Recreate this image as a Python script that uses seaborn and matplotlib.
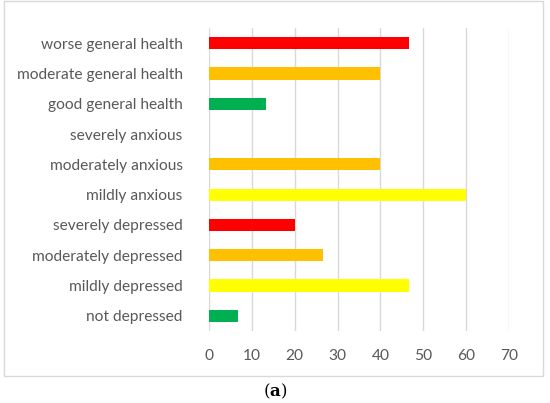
import matplotlib
matplotlib.use("Agg")
import matplotlib.pyplot as plt
import seaborn as sns
import pandas as pd
from matplotlib.patches import Rectangle

# Data (top to bottom, as shown)
categories = [
    "worse general health", "moderate general health", "good general health",
    "severely anxious", "moderately anxious", "mildly anxious",
    "severely depressed", "moderately depressed", "mildly depressed",
    "not depressed",
]
values = [46.67, 40.0, 13.33, 0.0, 40.0, 60.0, 20.0, 26.67, 46.67, 6.67]
levels = ["bad", "mid", "good", "bad", "mid", "mild", "bad", "mid", "mild", "good"]
x_ticks = [0, 10, 20, 30, 40, 50, 60, 70]

level_colors = {"bad": "#FF0000", "mid": "#FFC000", "mild": "#FFFF00", "good": "#00B050"}

df = pd.DataFrame({"category": categories, "value": values, "level": levels})

sns.set_style("white")
plt.rcParams["font.family"] = ["Lato", "DejaVu Sans"]
plt.rcParams["mathtext.fontset"] = "dejavuserif"

fig = plt.figure(figsize=(5.5, 4.03), dpi=100)
ax = fig.add_axes([0.38, 0.1787, 0.5455, 0.7518])

sns.barplot(data=df, x="value", y="category", hue="category", order=categories,
            palette={c: level_colors[l] for c, l in zip(categories, levels)},
            width=0.4, legend=False, ax=ax, saturation=1, linewidth=0)

ax.set_xlim(0, 70)
ax.set_ylim(len(categories) - 0.5, -0.5)
ax.set_xticks(x_ticks)
ax.set_xticklabels([str(t) for t in x_ticks])
ax.xaxis.grid(True, color="#D9D9D9", linewidth=1)
ax.set_axisbelow(True)
for s in ax.spines.values():
    s.set_visible(False)
ax.set_xlabel("")
ax.set_ylabel("")
ax.tick_params(axis="both", length=0, labelsize=11.2, colors="#595959")
ax.tick_params(axis="x", pad=13)
ax.tick_params(axis="y", pad=19)

# outer chart frame
fig.patches.append(Rectangle((4 / 550, 1 - 376 / 403), 539 / 550, 375 / 403,
                             transform=fig.transFigure, fill=False,
                             edgecolor="#D9D9D9", linewidth=1))

fig.text(0.5, 1 - 391 / 403, r"($\mathbf{a}$)", ha="center", va="center",
         fontsize=12, family=["DejaVu Serif"], color="#000000")

fig.savefig("out.png", dpi=100)
